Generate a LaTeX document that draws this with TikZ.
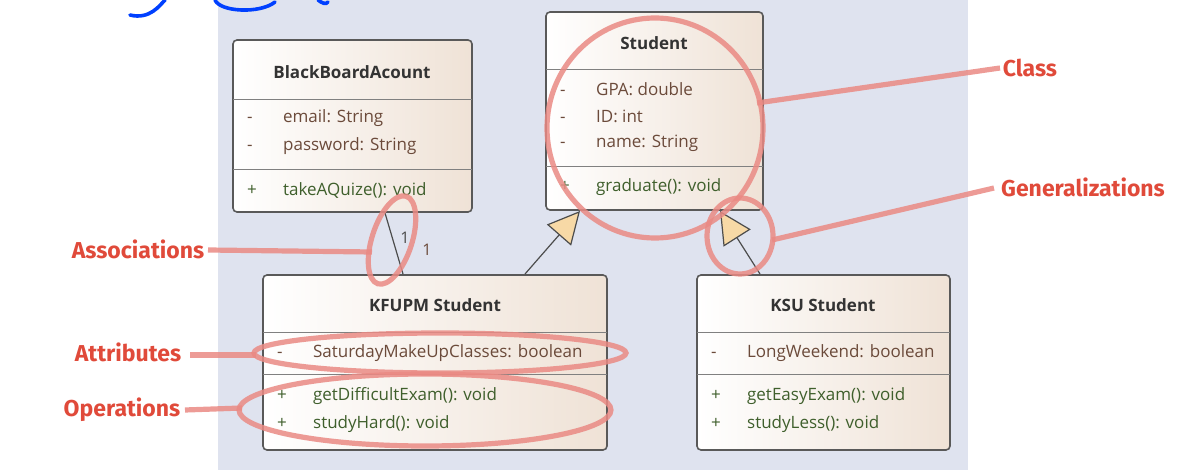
\documentclass[tikz,border=0pt]{standalone}
\usepackage{fontspec}
\setmainfont{Open Sans}
\newfontfamily\annf{Fira Sans}
\usetikzlibrary{arrows.meta}
\definecolor{panel}{HTML}{DFE3EF}
\definecolor{tan}{HTML}{EFE2D6}
\definecolor{attc}{HTML}{6B4A3A}
\definecolor{opc}{HTML}{3F5F2C}
\definecolor{ann}{HTML}{E04A3A}
\definecolor{annl}{HTML}{EA8A84}
\definecolor{tri}{HTML}{F7D9A6}
\begin{document}
\begin{tikzpicture}[x=0.5pt,y=-0.5pt,
  box/.style={draw=black!65,line width=0.8pt,rounded corners=2pt,left color=white,right color=tan},
  ttl/.style={font=\fontsize{8.5}{10}\selectfont\bfseries,text=black!80},
  att/.style={font=\fontsize{8.5}{10}\selectfont,text=attc,anchor=west},
  op/.style={font=\fontsize{8.5}{10}\selectfont,text=opc,anchor=west},
  div/.style={draw=black!50,line width=0.5pt},
  conn/.style={draw=black!70,line width=0.6pt},
  gen/.style={conn,-{Triangle[open,fill=tri,length=16pt,width=16pt]}},
  redmark/.style={draw=annl,line width=2.6pt,opacity=0.85},
  lab/.style={font=\annf\fontsize{11.5}{13}\selectfont\bfseries,text=ann}]
\useasboundingbox (0,0) rectangle (1200,470);
\fill[panel] (218,0) rectangle (968,470);
% blue scribble
\draw[blue!75!cyan,line width=1.8pt,line cap=round] (130,15) .. controls (150,20) and (160,5) .. (165,0);
\draw[blue!75!cyan,line width=1.8pt,line cap=round] (215,0) .. controls (220,12) and (260,14) .. (275,2);
\draw[blue!75!cyan,line width=1.8pt,line cap=round] (318,0) .. controls (322,3) and (326,5) .. (328,2);
% BlackBoard
\path[box] (233,40) rectangle (472,212);
\node[ttl] (bbt) at (352,72) {BlackBoardAcount};
\draw[div] (233,100) -- (472,100); \draw[div] (233,170) -- (472,170);
\node[att] (bb1) at (240,118) {-\hspace{1.8em}email: String};
\node[att] (bb2) at (240,146) {-\hspace{1.8em}password: String};
\node[op] (bb3) at (240,190) {+\hspace{1.55em}takeAQuize(): void};
\coordinate (bbs) at (385,213);
% Student
\path[box] (546,12) rectangle (763,210);
\node[ttl] (stt) at (654,43) {Student};
\draw[div] (546,70) -- (763,70); \draw[div] (546,167) -- (763,167);
\node[att] at (553,89) {-\hspace{1.8em}GPA: double};
\node[att] at (553,116) {-\hspace{1.8em}ID: int};
\node[att] at (553,143) {-\hspace{1.8em}name: String};
\node[op] at (553,187) {+\hspace{1.55em}graduate(): void};
\coordinate (sa) at (580,211); \coordinate (sb) at (720,211);
% KFUPM
\path[box] (263,275) rectangle (607,450);
\node[ttl] (kft) at (435,305) {KFUPM Student};
\draw[div] (263,333) -- (607,333); \draw[div] (263,375) -- (607,375);
\node[att] at (270,353) {-\hspace{1.8em}SaturdayMakeUpClasses: boolean};
\node[op] at (270,396) {+\hspace{1.55em}getDifficultExam(): void};
\node[op] at (270,424) {+\hspace{1.55em}studyHard(): void};
\coordinate (kfa) at (403,274); \coordinate (kfg) at (525,274);
% KSU
\path[box] (697,275) rectangle (950,450);
\node[ttl] (kst) at (823,305) {KSU Student};
\draw[div] (697,333) -- (950,333); \draw[div] (697,375) -- (950,375);
\node[att] at (704,353) {-\hspace{1.8em}LongWeekend: boolean};
\node[op] at (704,396) {+\hspace{1.55em}getEasyExam(): void};
\node[op] at (704,424) {+\hspace{1.55em}studyLess(): void};
\coordinate (ksg) at (760,274);
% connectors
\draw[conn] (bbs) -- (kfa);
\node[font=\fontsize{8}{9}\selectfont,text=black!70] (m1) at (405,238) {1};
\node[font=\fontsize{8}{9}\selectfont,text=attc] (m2) at (427,250) {1};
\draw[gen] (kfg) -- (sa);
\draw[gen] (ksg) -- (sb);
% annotations
\draw[redmark] (655,128) ellipse [x radius=108,y radius=110];
\draw[redmark] (757,103) -- (1000,68);
\draw[redmark] (740,236) ellipse [x radius=33,y radius=38];
\draw[redmark] (772,240) -- (994,188);
\draw[redmark,rotate around={-18:(392,240)}] (392,240) ellipse [x radius=20,y radius=46];
\draw[redmark] (208,250) -- (372,252);
\draw[redmark] (190,355) -- (256,355);
\draw[redmark] (440,353) ellipse [x radius=186,y radius=20];
\draw[redmark] (185,410) -- (242,408);
\draw[redmark] (425,410) ellipse [x radius=186,y radius=36];
\node[lab] (lc) at (1030,68) {Class};
\node[lab] (lg) at (1083,187) {Generalizations};
\node[lab] (la) at (138,249) {Associations};
\node[lab] (lat) at (128,352) {Attributes};
\node[lab] (lo) at (122,410) {Operations};
\end{tikzpicture}
\end{document}
